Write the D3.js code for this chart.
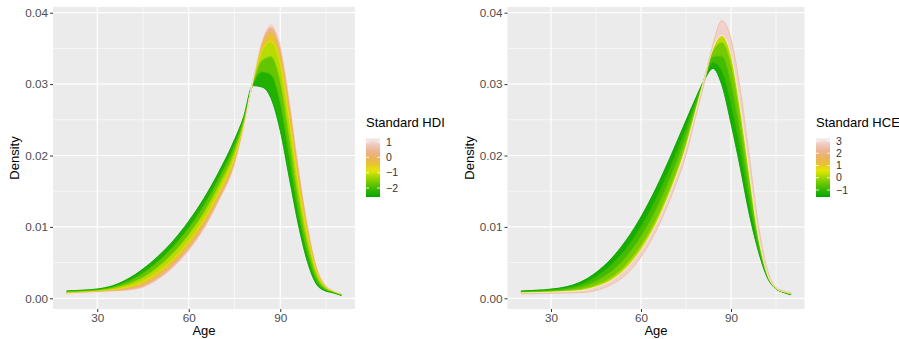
<!DOCTYPE html>
<html>
<head>
<meta charset="utf-8">
<script src="https://cdn.jsdelivr.net/npm/d3@7"></script>
<style>
  body { margin: 0; background: #fff; }
  svg { display: block; font-family: "Liberation Sans", Arial, sans-serif; }
</style>
</head>
<body>
<svg id="chart" width="899" height="339"></svg>
<script>
// shared age grid (x) and axis ticks
const ages = [20, 25, 30, 35, 40, 45, 50, 55, 60, 65, 70, 75, 78, 81, 84, 87, 90, 93, 96, 99, 102, 105, 107, 110];
const xTicks = [30, 60, 90];
const xMinor = [45, 75, 105];
const yTicks = [0, 0.01, 0.02, 0.03, 0.04];
const yMinor = [0.005, 0.015, 0.025, 0.035];

// left panel: density curves by standardised HDI (low -> high)
const hdiLevels = [-2.58, -2.0, -1.43, -0.87, 0.0, 0.68, 1.26];
const hdiDensity = [
  [0.00103, 0.00113, 0.0013, 0.00175, 0.0027, 0.0041, 0.0059, 0.0081, 0.0108, 0.0140, 0.0178, 0.0222, 0.0254, 0.0298, 0.0296, 0.0280, 0.0235, 0.0168, 0.0102, 0.0050, 0.0019, 0.0010, 0.0008, 0.0004],
  [0.00094, 0.00104, 0.00119, 0.00156, 0.00233, 0.00351, 0.00515, 0.00724, 0.00985, 0.01301, 0.01685, 0.02136, 0.025, 0.02998, 0.03174, 0.03136, 0.02744, 0.01993, 0.01214, 0.00625, 0.00249, 0.00118, 0.00089, 0.00047],
  [0.00084, 0.00094, 0.00108, 0.00138, 0.00195, 0.00291, 0.0044, 0.00638, 0.00891, 0.01202, 0.01591, 0.02053, 0.02461, 0.03015, 0.03335, 0.03388, 0.03039, 0.0226, 0.01407, 0.00751, 0.00309, 0.00135, 0.00098, 0.00053],
  [0.00075, 0.00085, 0.00098, 0.0012, 0.0016, 0.00235, 0.00369, 0.00557, 0.00801, 0.01108, 0.01501, 0.01973, 0.02423, 0.03032, 0.03469, 0.03598, 0.03285, 0.02492, 0.01592, 0.00871, 0.00366, 0.00152, 0.00106, 0.0006],
  [0.00068, 0.00078, 0.00089, 0.00105, 0.00131, 0.00189, 0.00311, 0.0049, 0.00727, 0.01031, 0.01427, 0.01908, 0.02392, 0.03046, 0.0355, 0.03724, 0.03432, 0.02666, 0.01742, 0.00967, 0.00411, 0.00166, 0.00113, 0.00065],
  [0.00063, 0.00073, 0.00084, 0.00096, 0.00112, 0.00159, 0.00274, 0.00447, 0.0068, 0.00982, 0.0138, 0.01867, 0.02373, 0.03054, 0.03597, 0.03798, 0.03519, 0.0277, 0.01838, 0.0103, 0.00441, 0.00174, 0.00117, 0.00068],
  [0.0006, 0.0007, 0.0008, 0.0009, 0.0010, 0.0014, 0.0025, 0.0042, 0.0065, 0.0095, 0.0135, 0.0184, 0.0236, 0.0306, 0.0363, 0.0385, 0.0358, 0.0284, 0.0190, 0.0107, 0.0046, 0.0018, 0.0012, 0.0007]
];
const hdiLegendTicks = [-2, -1, 0, 1];

// right panel: density curves by standardised HCE (inner -> outer)
const hceLevels = [-1.57, -1.1, -0.6, -0.1, 0.6, 3.24, 2.4];
const hceDensity = [
  [0.00102, 0.00112, 0.00128, 0.0016, 0.0023, 0.0036, 0.0055, 0.0081, 0.0114, 0.0154, 0.0200, 0.0249, 0.0278, 0.0305, 0.0322, 0.0298, 0.0245, 0.0185, 0.0120, 0.0068, 0.0030, 0.0013, 0.0009, 0.0005],
  [0.00094, 0.00102, 0.00115, 0.00141, 0.00194, 0.0030, 0.0046, 0.00693, 0.01002, 0.0139, 0.01856, 0.02379, 0.0272, 0.03053, 0.03304, 0.03187, 0.02735, 0.02099, 0.01374, 0.00746, 0.00315, 0.00133, 0.00093, 0.00056],
  [0.00086, 0.00093, 0.00102, 0.00121, 0.00158, 0.0024, 0.0037, 0.00576, 0.00864, 0.0124, 0.01712, 0.02268, 0.0266, 0.03056, 0.03388, 0.03394, 0.0302, 0.02348, 0.01548, 0.00812, 0.0033, 0.00136, 0.00096, 0.00062],
  [0.00078, 0.00084, 0.0009, 0.00103, 0.00124, 0.00184, 0.00286, 0.00467, 0.00735, 0.011, 0.01578, 0.02164, 0.02604, 0.03059, 0.03466, 0.03587, 0.03286, 0.0258, 0.0171, 0.00874, 0.00344, 0.00139, 0.00099, 0.00068],
  [0.00075, 0.0008, 0.00085, 0.00095, 0.0011, 0.0016, 0.0025, 0.0042, 0.0068, 0.0104, 0.0152, 0.0212, 0.0258, 0.0306, 0.0350, 0.0367, 0.0340, 0.0268, 0.0178, 0.0090, 0.0035, 0.0014, 0.0010, 0.0007],
  [0.00074, 0.00079, 0.00084, 0.00094, 0.00108, 0.00157, 0.00246, 0.00415, 0.00674, 0.01034, 0.01514, 0.02113, 0.02576, 0.03056, 0.03504, 0.03683, 0.03414, 0.02696, 0.01794, 0.0091, 0.00354, 0.0014, 0.00101, 0.00071],
  [0.0006, 0.00065, 0.0007, 0.00075, 0.0008, 0.0011, 0.0019, 0.0033, 0.0058, 0.0094, 0.0142, 0.0201, 0.0251, 0.0300, 0.0356, 0.0389, 0.0363, 0.0295, 0.0202, 0.0106, 0.0042, 0.0015, 0.0011, 0.0008]
];
const hceLegendTicks = [-1, 0, 1, 2, 3];

// R terrain.colors(10)
const terrain = ['#00A600', '#2DB600', '#63C600', '#A0D600', '#E6E600', '#E8C32E', '#EBB25E', '#EDB48E', '#F0C9C0', '#F2F2F2'];

const svg = d3.select('#chart');
const defs = svg.append('defs');

function drawPanel(opts) {
  const { left, right, levels, density, legendX, title, legendTicks, id } = opts;
  const top = 7, bottom = 309;

  const x = d3.scaleLinear().domain([15.5, 114.5]).range([left, right]);
  const y = d3.scaleLinear().domain([-0.0015, 0.0408]).range([bottom, top]);

  const ext = d3.extent(levels);
  const color = d3.scaleLinear()
    .domain(terrain.map((c, i) => ext[0] + (ext[1] - ext[0]) * i / (terrain.length - 1)))
    .range(terrain)
    .interpolate(d3.interpolateLab);

  const g = svg.append('g');

  // panel background + grid
  g.append('rect')
    .attr('x', left).attr('y', top)
    .attr('width', right - left).attr('height', bottom - top)
    .attr('fill', '#EBEBEB');

  g.selectAll('.xminor').data(xMinor).enter().append('line')
    .attr('x1', d => x(d)).attr('x2', d => x(d))
    .attr('y1', top).attr('y2', bottom)
    .attr('stroke', '#fff').attr('stroke-width', 0.6);
  g.selectAll('.yminor').data(yMinor).enter().append('line')
    .attr('x1', left).attr('x2', right)
    .attr('y1', d => y(d)).attr('y2', d => y(d))
    .attr('stroke', '#fff').attr('stroke-width', 0.6);
  g.selectAll('.xmajor').data(xTicks).enter().append('line')
    .attr('x1', d => x(d)).attr('x2', d => x(d))
    .attr('y1', top).attr('y2', bottom)
    .attr('stroke', '#fff').attr('stroke-width', 1.2);
  g.selectAll('.ymajor').data(yTicks).enter().append('line')
    .attr('x1', left).attr('x2', right)
    .attr('y1', d => y(d)).attr('y2', d => y(d))
    .attr('stroke', '#fff').attr('stroke-width', 1.2);

  // bands between neighbouring curves, then the curves themselves
  const area = d3.area()
    .x(d => x(d[0]))
    .y0(d => y(d[1]))
    .y1(d => y(d[2]))
    .curve(d3.curveMonotoneX);
  const line = d3.line()
    .x((d, i) => x(ages[i]))
    .y(d => y(d))
    .curve(d3.curveMonotoneX);

  for (let i = 1; i < density.length; i++) {
    const c = color((levels[i - 1] + levels[i]) / 2);
    g.append('path')
      .datum(ages.map((a, k) => [a, density[i - 1][k], density[i][k]]))
      .attr('fill', c)
      .attr('stroke', c)
      .attr('stroke-width', 0.5)
      .attr('d', area);
  }
  density.forEach((curve, i) => {
    g.append('path')
      .datum(curve)
      .attr('fill', 'none')
      .attr('stroke', color(levels[i]))
      .attr('stroke-width', 0.8)
      .attr('d', line);
  });

  // axes
  const xAxis = g.append('g')
    .attr('transform', `translate(0,${bottom})`)
    .call(d3.axisBottom(x).tickValues(xTicks).tickSize(3).tickPadding(2));
  const yAxis = g.append('g')
    .attr('transform', `translate(${left},0)`)
    .call(d3.axisLeft(y).tickValues(yTicks).tickSize(3).tickPadding(2).tickFormat(d3.format('.2f')));
  [xAxis, yAxis].forEach(a => {
    a.select('.domain').remove();
    a.selectAll('line').attr('stroke', '#333333');
    a.selectAll('text').attr('fill', '#4D4D4D').style('font-size', '11.7px')
      .style('font-family', '"Liberation Sans", Arial, sans-serif');
  });

  g.append('text')
    .attr('x', (left + right) / 2).attr('y', 335)
    .attr('text-anchor', 'middle')
    .style('font-size', '13px')
    .text('Age');
  g.append('text')
    .attr('transform', `translate(${left - 34},${(top + bottom) / 2}) rotate(-90)`)
    .attr('text-anchor', 'middle')
    .style('font-size', '13px')
    .text('Density');

  // colourbar legend
  const barTop = 138, barBottom = 197, barW = 14;
  const grad = defs.append('linearGradient')
    .attr('id', id).attr('x1', 0).attr('x2', 0).attr('y1', 1).attr('y2', 0);
  d3.range(0, 1.0001, 0.05).forEach(t => {
    grad.append('stop')
      .attr('offset', t)
      .attr('stop-color', color(ext[0] + t * (ext[1] - ext[0])));
  });
  const lg = svg.append('g');
  lg.append('text')
    .attr('x', legendX).attr('y', 127)
    .style('font-size', '13px')
    .text(title);
  lg.append('rect')
    .attr('x', legendX).attr('y', barTop)
    .attr('width', barW).attr('height', barBottom - barTop)
    .attr('fill', `url(#${id})`);
  const ly = d3.scaleLinear().domain(ext).range([barBottom, barTop]);
  legendTicks.forEach(v => {
    lg.append('line')
      .attr('x1', legendX).attr('x2', legendX + 3)
      .attr('y1', ly(v)).attr('y2', ly(v))
      .attr('stroke', '#fff').attr('stroke-width', 0.8);
    lg.append('line')
      .attr('x1', legendX + barW - 3).attr('x2', legendX + barW)
      .attr('y1', ly(v)).attr('y2', ly(v))
      .attr('stroke', '#fff').attr('stroke-width', 0.8);
    lg.append('text')
      .attr('x', legendX + barW + 6).attr('y', ly(v))
      .attr('dy', '0.35em')
      .attr('fill', '#333')
      .style('font-size', '10.5px')
      .text(v < 0 ? '\u2212' + Math.abs(v) : v);
  });
}

drawPanel({
  left: 53, right: 355, levels: hdiLevels, density: hdiDensity,
  legendX: 366, title: 'Standard HDI', legendTicks: hdiLegendTicks, id: 'gradHDI'
});
drawPanel({
  left: 507.5, right: 804.5, levels: hceLevels, density: hceDensity,
  legendX: 816, title: 'Standard HCE', legendTicks: hceLegendTicks, id: 'gradHCE'
});
</script>
</body>
</html>
